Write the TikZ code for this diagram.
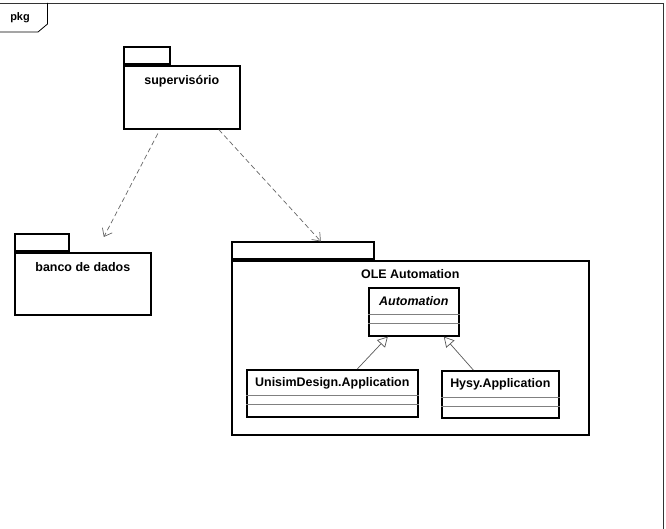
\documentclass[tikz,border=0pt]{standalone}
\usepackage{fontspec}
\setmainfont{Liberation Sans}
\usetikzlibrary{positioning, arrows.meta}
\tikzset{
  pkgbody/.style   = {draw, line width=1.6bp, inner sep=0pt, anchor=north west},
  pkgtab/.style    = {draw, line width=1.6bp, inner sep=0pt, minimum height=17bp,
                      anchor=south west},
  pkgname/.style   = {font=\fontsize{12.5}{14}\selectfont\bfseries, inner sep=1pt},
  classbox/.style  = {draw, line width=1.6bp, inner sep=0pt, anchor=north west,
                      minimum height=47bp},
  compline/.style  = {draw=gray, line width=0.9bp},
  deparrow/.style  = {draw=gray!80!black, line width=0.7bp, dash pattern=on 5bp off 3bp,
                      -{Straight Barb[length=7bp,width=11bp]}},
  genarrow/.style  = {draw=gray!70!black, line width=0.7bp,
                      -{Triangle[open, fill=white, length=10bp, width=11bp]}}
}
\begin{document}
\begin{tikzpicture}[x=1bp, y=-1bp]
  \useasboundingbox (0,0) rectangle (666,529);
  % frame
  \draw[gray!40!black, line width=0.8bp] (0,3) -- (663,3) -- (663,529);
  \draw[line width=0.8bp] (0,32) -- (38,32) -- (47.5,24) -- (47.5,3);
  \node[pkgname, font=\fontsize{11}{13}\selectfont\bfseries] (frm) at (20,18) {pkg};

  % packages
  \node[pkgbody, minimum width=116bp, minimum height=63bp] (sup) at (123,65) {};
  \node[pkgtab, minimum width=46bp] (suptab) at (sup.north west) {};
  \node[pkgname, below=9bp of sup.north] (supname) {supervisório};

  \node[pkgbody, minimum width=136bp, minimum height=62bp] (bd) at (14,252) {};
  \node[pkgtab, minimum width=54bp] (bdtab) at (bd.north west) {};
  \node[pkgname, below=9bp of bd.north] (bdname) {banco de dados};

  \node[pkgbody, minimum width=357bp, minimum height=174bp] (ole) at (231,260) {};
  \node[pkgtab, minimum width=142bp] (oletab) at (ole.north west) {};
  \node[pkgname, below=8bp of ole.north] (olename) {OLE Automation};

  % classes
  \node[classbox, minimum width=90bp, minimum height=48bp] (auto) at (368,287) {};
  \node[pkgname, font=\fontsize{12.5}{14}\selectfont\bfseries\itshape,
        below=8bp of auto.north] (autoname) {Automation};
  \draw[compline] ([yshift=-27bp]auto.north west) -- ([yshift=-27bp]auto.north east);
  \draw[compline] ([yshift=-36bp]auto.north west) -- ([yshift=-36bp]auto.north east);

  \node[classbox, minimum width=171bp] (unisim) at (246,369) {};
  \node[pkgname, below=7bp of unisim.north] (unisimname) {UnisimDesign.Application};
  \draw[compline] ([yshift=-26bp]unisim.north west) -- ([yshift=-26bp]unisim.north east);
  \draw[compline] ([yshift=-35bp]unisim.north west) -- ([yshift=-35bp]unisim.north east);

  \node[classbox, minimum width=117bp] (hysy) at (441,370) {};
  \node[pkgname, below=7bp of hysy.north] (hysyname) {Hysy.Application};
  \draw[compline] ([yshift=-27bp]hysy.north west) -- ([yshift=-27bp]hysy.north east);
  \draw[compline] ([yshift=-36bp]hysy.north west) -- ([yshift=-36bp]hysy.north east);

  % dependencies
  \draw[deparrow] ([xshift=-24bp, yshift=-4bp]sup.south) -- ([xshift=21bp, yshift=15bp]bd.north);
  \draw[deparrow] ([xshift=37bp]sup.south) -- ([xshift=18bp]oletab.north);

  % generalizations
  \draw[genarrow] ([xshift=25bp]unisim.north) -- ([xshift=-26bp]auto.south);
  \draw[genarrow] ([xshift=-27bp]hysy.north) -- ([xshift=30bp]auto.south);
\end{tikzpicture}
\end{document}
